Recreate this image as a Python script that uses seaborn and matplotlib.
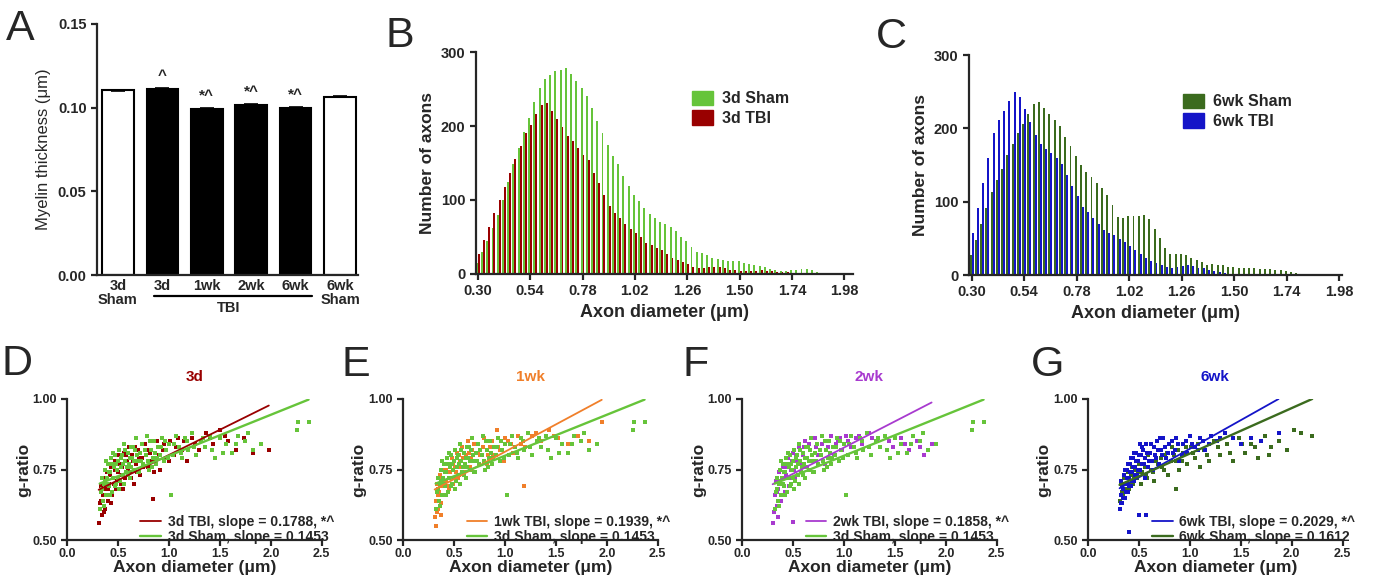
import numpy as np
import pandas as pd
import seaborn as sns
import matplotlib.pyplot as plt
from matplotlib.patches import Patch

sns.set_style('ticks')
plt.rcParams['font.family'] = ['Liberation Sans', 'DejaVu Sans']
plt.rcParams['axes.linewidth'] = 1.6
plt.rcParams['xtick.major.width'] = 1.6
plt.rcParams['ytick.major.width'] = 1.6
plt.rcParams['xtick.major.size'] = 4
plt.rcParams['ytick.major.size'] = 4

# ---- colours
c_sham3d = '#66C43A'
c_tbi3d = '#990000'
c_sham6 = '#3B6B1E'
c_tbi6 = '#1414C8'
c_1wk = '#F07F2A'
c_2wk = '#A83ACF'

# ---- panel A data
groups = ['3d\nSham', '3d', '1wk', '2wk', '6wk', '6wk\nSham']
myelin = [0.1104, 0.1114, 0.0992, 0.1016, 0.0998, 0.1066]
myelin_sem = [0.0003, 0.0003, 0.0003, 0.0003, 0.0003, 0.0003]
marks = ['', '^', '*^', '*^', '*^', '']
bar_fill = ['white', 'black', 'black', 'black', 'black', 'white']

# ---- histogram data (bins of 0.024 um starting at 0.30)
bin_centers = np.round(np.arange(71) * 0.024 + 0.30, 3)
hist_ticks = ['0.30', '0.54', '0.78', '1.02', '1.26', '1.50', '1.74', '1.98']
sham3d_counts = [15, 30, 45, 62, 80, 100, 124, 148, 170, 192,
                 211, 232, 251, 264, 269, 274, 276, 278, 270, 261,
                 251, 241, 225, 207, 191, 174, 160, 149, 133, 119,
                 107, 99, 89, 81, 75, 70, 67, 63, 58, 50,
                 44, 36, 30, 28, 26, 22, 20, 19, 18, 18,
                 17, 15, 14, 12, 11, 9, 7, 6, 4, 4,
                 5, 5, 7, 7, 5, 3, 1, 0, 0, 0, 0]
tbi3d_counts = [27, 46, 64, 82, 100, 118, 137, 155, 173, 191,
                202, 216, 228, 231, 220, 209, 198, 187, 180, 170,
                161, 154, 137, 123, 107, 92, 82, 76, 68, 61,
                55, 50, 42, 39, 35, 32, 27, 22, 19, 16,
                13, 10, 8, 8, 9, 9, 9, 8, 6, 5,
                4, 4, 4, 4, 5, 4, 4, 3, 2, 2,
                1, 1, 1, 0, 0, 0, 0, 0, 0, 0, 0]
sham6_counts = [27, 48, 70, 92, 113, 129, 145, 163, 179, 193,
                206, 219, 233, 236, 228, 220, 211, 203, 188, 176,
                162, 150, 141, 134, 126, 118, 109, 96, 79, 78,
                80, 81, 81, 82, 76, 63, 50, 37, 29, 29,
                28, 27, 23, 20, 18, 14, 15, 14, 13, 11,
                11, 10, 9, 9, 9, 8, 8, 8, 7, 7,
                6, 4, 3, 2, 2, 2, 2, 2, 2, 1, 1]
tbi6_counts = [57, 92, 125, 160, 194, 211, 224, 237, 250, 243,
               226, 209, 191, 179, 172, 166, 159, 151, 136, 122,
               108, 93, 86, 78, 70, 62, 57, 54, 49, 45,
               40, 34, 28, 23, 19, 17, 14, 11, 10, 11,
               12, 13, 12, 10, 9, 7, 5, 4, 3, 2,
               1, 0, 0, 0, 0, 0, 0, 0, 0, 0,
               0, 0, 0, 0, 0, 0, 0, 0, 0, 0, 0]

# ---- g-ratio scatter data (x = axon diameter um, y = g-ratio)
sham3d_pts = [(0.32, 0.61), (0.33, 0.67), (0.34, 0.72), (0.35, 0.64), (0.36, 0.70), (0.37, 0.75),
              (0.38, 0.66), (0.39, 0.72), (0.40, 0.77), (0.41, 0.69), (0.42, 0.74), (0.43, 0.79),
              (0.44, 0.67), (0.45, 0.72), (0.46, 0.76), (0.47, 0.80), (0.48, 0.70), (0.49, 0.75),
              (0.50, 0.78), (0.51, 0.82), (0.52, 0.71), (0.53, 0.76), (0.54, 0.80), (0.55, 0.73),
              (0.56, 0.84), (0.57, 0.78), (0.58, 0.74), (0.60, 0.81), (0.61, 0.77), (0.62, 0.72),
              (0.63, 0.83), (0.64, 0.79), (0.66, 0.75), (0.67, 0.82), (0.68, 0.86), (0.70, 0.78),
              (0.71, 0.74), (0.72, 0.81), (0.74, 0.84), (0.75, 0.77), (0.77, 0.80), (0.78, 0.87),
              (0.80, 0.75), (0.82, 0.82), (0.84, 0.79), (0.85, 0.85), (0.87, 0.77), (0.89, 0.83),
              (0.91, 0.80), (0.93, 0.86), (0.95, 0.78), (0.97, 0.82), (1.00, 0.84), (1.02, 0.66),
              (1.04, 0.80), (1.07, 0.87), (1.10, 0.83), (1.13, 0.79), (1.16, 0.86), (1.19, 0.82),
              (1.23, 0.88), (1.27, 0.80), (1.31, 0.85), (1.35, 0.83), (1.40, 0.87), (1.45, 0.79),
              (1.50, 0.86), (1.56, 0.84), (1.62, 0.81), (1.68, 0.87), (1.75, 0.85), (1.82, 0.82),
              (1.90, 0.84), (2.26, 0.89), (2.27, 0.92), (2.37, 0.92),
              (0.34, 0.68), (0.36, 0.62), (0.37, 0.71), (0.38, 0.78), (0.40, 0.70), (0.41, 0.74),
              (0.42, 0.66), (0.44, 0.77), (0.45, 0.81), (0.47, 0.69), (0.48, 0.77), (0.50, 0.72),
              (0.51, 0.68), (0.53, 0.79), (0.55, 0.77), (0.56, 0.70), (0.57, 0.82), (0.59, 0.76),
              (0.60, 0.73), (0.62, 0.79), (0.63, 0.76), (0.65, 0.83), (0.66, 0.78), (0.69, 0.80),
              (0.70, 0.74), (0.73, 0.78), (0.76, 0.82), (0.79, 0.78), (0.81, 0.85), (0.83, 0.76),
              (0.86, 0.81), (0.88, 0.79), (0.92, 0.83), (0.96, 0.85), (0.99, 0.79), (1.05, 0.84),
              (1.12, 0.81), (1.18, 0.85), (1.25, 0.83), (1.33, 0.86), (1.42, 0.82), (1.53, 0.81),
              (1.66, 0.84), (1.78, 0.88)]
tbi3d_pts = [(0.31, 0.56), (0.32, 0.63), (0.33, 0.69), (0.34, 0.59), (0.35, 0.66), (0.36, 0.72),
             (0.37, 0.61), (0.38, 0.68), (0.39, 0.74), (0.40, 0.64), (0.41, 0.70), (0.43, 0.76),
             (0.44, 0.66), (0.45, 0.72), (0.47, 0.78), (0.48, 0.68), (0.50, 0.74), (0.51, 0.80),
             (0.53, 0.70), (0.54, 0.76), (0.56, 0.81), (0.57, 0.72), (0.59, 0.78), (0.61, 0.83),
             (0.62, 0.74), (0.64, 0.80), (0.66, 0.70), (0.68, 0.77), (0.70, 0.82), (0.72, 0.73),
             (0.74, 0.79), (0.76, 0.84), (0.79, 0.76), (0.81, 0.81), (0.84, 0.645), (0.86, 0.78),
             (0.88, 0.85), (0.91, 0.75), (0.94, 0.82), (0.97, 0.79), (1.01, 0.85), (1.05, 0.80),
             (1.09, 0.86), (1.13, 0.82), (1.18, 0.78), (1.23, 0.86), (1.29, 0.82), (1.36, 0.88),
             (1.43, 0.84), (1.50, 0.89), (1.58, 0.85), (1.66, 0.82), (1.74, 0.86), (1.82, 0.81),
             (1.98, 0.82),
             (0.33, 0.64), (0.35, 0.70), (0.36, 0.60), (0.38, 0.72), (0.40, 0.68), (0.42, 0.73),
             (0.43, 0.63), (0.46, 0.70), (0.47, 0.75), (0.49, 0.71), (0.52, 0.77), (0.54, 0.73),
             (0.55, 0.68), (0.58, 0.80), (0.60, 0.75), (0.63, 0.72), (0.65, 0.78), (0.67, 0.83),
             (0.69, 0.74), (0.71, 0.79), (0.75, 0.76), (0.78, 0.82), (0.82, 0.78), (0.85, 0.74),
             (0.90, 0.80), (0.95, 0.84), (1.00, 0.78), (1.07, 0.83), (1.15, 0.85), (1.26, 0.84),
             (1.40, 0.86), (1.55, 0.87)]
tbi1wk_pts = [(0.31, 0.58), (0.32, 0.55), (0.32, 0.64), (0.33, 0.70), (0.34, 0.61), (0.35, 0.67),
              (0.36, 0.73), (0.37, 0.63), (0.38, 0.69), (0.39, 0.75), (0.41, 0.66), (0.42, 0.71),
              (0.43, 0.77), (0.45, 0.68), (0.46, 0.74), (0.48, 0.79), (0.49, 0.70), (0.51, 0.76),
              (0.53, 0.81), (0.54, 0.72), (0.56, 0.78), (0.58, 0.83), (0.60, 0.74), (0.62, 0.80),
              (0.64, 0.85), (0.66, 0.76), (0.68, 0.82), (0.71, 0.78), (0.73, 0.84), (0.76, 0.80),
              (0.79, 0.86), (0.82, 0.77), (0.85, 0.83), (0.88, 0.80), (0.92, 0.89), (0.95, 0.82),
              (0.99, 0.78), (1.03, 0.85), (1.08, 0.81), (1.13, 0.87), (1.19, 0.69), (1.20, 0.83),
              (1.27, 0.87), (1.35, 0.85), (1.43, 0.89), (1.52, 0.86), (1.62, 0.84), (1.72, 0.87),
              (1.82, 0.85), (1.95, 0.92),
              (0.33, 0.60), (0.34, 0.66), (0.36, 0.69), (0.37, 0.59), (0.38, 0.72), (0.40, 0.71),
              (0.42, 0.75), (0.44, 0.69), (0.47, 0.72), (0.49, 0.77), (0.52, 0.74), (0.55, 0.80),
              (0.57, 0.76), (0.59, 0.79), (0.61, 0.77), (0.65, 0.81), (0.67, 0.79), (0.70, 0.84),
              (0.74, 0.81), (0.78, 0.83), (0.83, 0.80), (0.87, 0.85), (0.93, 0.83), (1.00, 0.86),
              (1.06, 0.84), (1.16, 0.84), (1.30, 0.88), (1.48, 0.87)]
tbi2wk_pts = [(0.30, 0.56), (0.31, 0.60), (0.32, 0.66), (0.33, 0.71), (0.34, 0.62), (0.35, 0.68),
              (0.36, 0.74), (0.38, 0.64), (0.39, 0.70), (0.40, 0.76), (0.42, 0.67), (0.43, 0.73),
              (0.45, 0.79), (0.46, 0.69), (0.48, 0.75), (0.50, 0.565), (0.50, 0.81), (0.52, 0.72),
              (0.54, 0.78), (0.56, 0.83), (0.58, 0.74), (0.60, 0.80), (0.62, 0.85), (0.64, 0.76),
              (0.67, 0.82), (0.70, 0.78), (0.72, 0.86), (0.75, 0.80), (0.78, 0.84), (0.81, 0.77),
              (0.84, 0.83), (0.87, 0.87), (0.90, 0.80), (0.94, 0.85), (0.98, 0.82), (1.02, 0.87),
              (1.07, 0.83), (1.12, 0.86), (1.18, 0.84), (1.25, 0.88), (1.32, 0.85), (1.40, 0.87),
              (1.48, 0.83), (1.56, 0.86), (1.64, 0.82), (1.72, 0.85), (1.79, 0.80), (1.86, 0.84),
              (0.32, 0.61), (0.34, 0.67), (0.35, 0.58), (0.37, 0.71), (0.39, 0.66), (0.41, 0.72),
              (0.44, 0.76), (0.47, 0.72), (0.49, 0.78), (0.51, 0.75), (0.53, 0.80), (0.55, 0.77),
              (0.57, 0.82), (0.59, 0.77), (0.61, 0.83), (0.63, 0.79), (0.66, 0.84), (0.69, 0.80),
              (0.73, 0.83), (0.77, 0.80), (0.82, 0.85), (0.86, 0.81), (0.92, 0.84), (0.96, 0.86),
              (1.04, 0.85), (1.15, 0.87), (1.28, 0.86), (1.44, 0.85), (1.60, 0.84), (1.75, 0.83)]
sham6_pts = [(0.31, 0.64), (0.32, 0.70), (0.34, 0.66), (0.35, 0.72), (0.37, 0.68), (0.39, 0.74),
             (0.41, 0.70), (0.43, 0.76), (0.45, 0.72), (0.47, 0.78), (0.49, 0.74), (0.52, 0.70),
             (0.54, 0.77), (0.57, 0.73), (0.59, 0.80), (0.62, 0.75), (0.65, 0.71), (0.67, 0.78),
             (0.70, 0.82), (0.73, 0.76), (0.76, 0.80), (0.79, 0.73), (0.82, 0.83), (0.86, 0.68),
             (0.86, 0.78), (0.89, 0.75), (0.93, 0.81), (0.97, 0.77), (1.01, 0.83), (1.05, 0.79),
             (1.10, 0.76), (1.14, 0.82), (1.19, 0.78), (1.24, 0.85), (1.30, 0.80), (1.36, 0.84),
             (1.42, 0.78), (1.48, 0.86), (1.54, 0.81), (1.60, 0.84), (1.67, 0.79), (1.74, 0.87),
             (1.80, 0.83), (1.87, 0.85), (1.95, 0.82), (2.02, 0.89), (2.09, 0.88), (2.20, 0.87),
             (0.33, 0.67), (0.36, 0.70), (0.38, 0.72), (0.40, 0.68), (0.42, 0.73), (0.44, 0.70),
             (0.46, 0.75), (0.48, 0.72), (0.50, 0.77), (0.53, 0.74), (0.56, 0.76), (0.58, 0.72),
             (0.61, 0.78), (0.64, 0.74), (0.66, 0.80), (0.69, 0.77), (0.72, 0.79), (0.75, 0.75),
             (0.78, 0.81), (0.81, 0.78), (0.84, 0.80), (0.88, 0.82), (0.92, 0.78), (0.96, 0.83),
             (1.03, 0.81), (1.08, 0.84), (1.17, 0.80), (1.28, 0.83), (1.39, 0.81), (1.51, 0.84),
             (1.64, 0.83), (1.78, 0.80)]
tbi6_pts = [(0.31, 0.61), (0.32, 0.66), (0.32, 0.71), (0.33, 0.63), (0.34, 0.68), (0.35, 0.73),
            (0.36, 0.65), (0.37, 0.70), (0.38, 0.75), (0.39, 0.67), (0.40, 0.53), (0.40, 0.72),
            (0.41, 0.77), (0.42, 0.69), (0.43, 0.74), (0.44, 0.79), (0.45, 0.71), (0.46, 0.76),
            (0.47, 0.81), (0.48, 0.73), (0.49, 0.78), (0.50, 0.59), (0.51, 0.75), (0.52, 0.80),
            (0.53, 0.83), (0.55, 0.77), (0.56, 0.72), (0.57, 0.59), (0.58, 0.81), (0.60, 0.78),
            (0.62, 0.84), (0.64, 0.75), (0.66, 0.80), (0.68, 0.85), (0.70, 0.77), (0.72, 0.82),
            (0.74, 0.86), (0.77, 0.79), (0.80, 0.84), (0.83, 0.81), (0.86, 0.86), (0.89, 0.78),
            (0.93, 0.84), (0.97, 0.81), (1.00, 0.87), (1.05, 0.83), (1.10, 0.86), (1.15, 0.82),
            (1.21, 0.87), (1.27, 0.85), (1.34, 0.88), (1.42, 0.86), (1.50, 0.84), (1.60, 0.86),
            (1.70, 0.85), (1.87, 0.88),
            (0.32, 0.63), (0.33, 0.69), (0.34, 0.65), (0.35, 0.70), (0.36, 0.75), (0.37, 0.67),
            (0.38, 0.72), (0.39, 0.77), (0.40, 0.69), (0.41, 0.74), (0.42, 0.79), (0.43, 0.71),
            (0.44, 0.76), (0.45, 0.81), (0.46, 0.73), (0.47, 0.78), (0.49, 0.75), (0.50, 0.80),
            (0.51, 0.84), (0.53, 0.77), (0.54, 0.82), (0.56, 0.79), (0.57, 0.84), (0.59, 0.76),
            (0.61, 0.81), (0.63, 0.78), (0.65, 0.83), (0.67, 0.79), (0.69, 0.82), (0.71, 0.86),
            (0.73, 0.80), (0.76, 0.83), (0.79, 0.81), (0.82, 0.85), (0.85, 0.82), (0.88, 0.84),
            (0.92, 0.80), (0.96, 0.85), (1.02, 0.84), (1.08, 0.82), (1.13, 0.85), (1.19, 0.84),
            (1.30, 0.86)]

# regression lines: slope, intercept
fit_tbi3d = (0.1788, 0.6228)
fit_sham3d = (0.1453, 0.6535)
fit_tbi1wk = (0.1939, 0.6190)
fit_tbi2wk = (0.1858, 0.6420)
fit_tbi6 = (0.2029, 0.6206)
fit_sham6 = (0.1612, 0.6454)

fig = plt.figure(figsize=(13.77, 5.78), dpi=100)

# ================= A
axA = fig.add_axes([0.0704, 0.5242, 0.1895, 0.4343])
sns.barplot(x=groups, y=myelin, hue=groups, palette=bar_fill, order=groups,
            edgecolor='black', linewidth=1.5, width=0.71, saturation=1,
            legend=False, ax=axA)
axA.errorbar(range(len(groups)), myelin, yerr=myelin_sem, fmt='none',
             ecolor='black', elinewidth=1.2, capsize=5, capthick=1.2)
for i, (v, m) in enumerate(zip(myelin, marks)):
    if m:
        axA.text(i, v + 0.0035, m, ha='center', va='bottom', fontsize=11, fontweight='bold')
axA.set_xlim(-0.47, 5.4)
axA.set_ylim(0, 0.15)
axA.set_yticks([0, 0.05, 0.10, 0.15])
axA.set_yticklabels(['0.00', '0.05', '0.10', '0.15'], fontsize=10.5, fontweight='bold')
axA.set_xticks(range(len(groups)))
axA.set_xticklabels(groups, fontsize=10.5, fontweight='bold', linespacing=0.95)
axA.tick_params(axis='x', length=0, pad=3)
axA.set_ylabel('Myelin thickness (μm)', fontsize=12, labelpad=5)
sns.despine(ax=axA)
trA = axA.get_xaxis_transform()
axA.plot([0.81, 4.36], [-0.085, -0.085], color='black', lw=1.6, transform=trA, clip_on=False)
axA.text(2.5, -0.105, 'TBI', transform=trA, ha='center', va='top', fontsize=10.5, fontweight='bold')


# ================= B, C histograms
def hist_panel(rect, name_sham, name_tbi, sham, tbi, c_sham, c_tbi, xlim):
    ax = fig.add_axes(rect)
    df = pd.DataFrame({
        'bin': list(bin_centers) * 2,
        'count': sham + tbi,
        'group': [name_sham] * len(sham) + [name_tbi] * len(tbi),
    })
    sns.barplot(data=df, x='bin', y='count', hue='group', hue_order=[name_sham, name_tbi],
                palette=[c_sham, c_tbi], width=0.74, saturation=1, linewidth=0,
                legend=False, ax=ax)
    ax.set_xticks(range(0, 71, 10))
    ax.set_xticklabels(hist_ticks, fontsize=10.5, fontweight='bold')
    ax.set_xlim(*xlim)
    ax.set_ylim(0, 300)
    ax.set_yticks([0, 100, 200, 300])
    ax.set_yticklabels(['0', '100', '200', '300'], fontsize=10.5, fontweight='bold')
    ax.set_xlabel('Axon diameter (μm)', fontsize=13, fontweight='bold', labelpad=4)
    ax.set_ylabel('Number of axons', fontsize=12.5, fontweight='bold', labelpad=4)
    handles = [Patch(color=c_sham), Patch(color=c_tbi)]
    ax.legend(handles, [name_sham, name_tbi], loc='upper left', bbox_to_anchor=(0.535, 0.89),
              frameon=False, handlelength=1.3, handleheight=1.0, handletextpad=0.6,
              labelspacing=0.25, prop={'size': 11.5, 'weight': 'bold'})
    sns.despine(ax=ax)
    return ax


hist_panel([0.3457, 0.526, 0.2738, 0.384], '3d Sham', '3d TBI',
           sham3d_counts, tbi3d_counts, c_sham3d, c_tbi3d, (-0.33, 71.66))
hist_panel([0.7037, 0.5242, 0.2709, 0.3806], '6wk Sham', '6wk TBI',
           sham6_counts, tbi6_counts, c_sham6, c_tbi6, (-0.5, 70.5))

# ================= D-G g-ratio scatters
scatter_lefts = [0.0487, 0.2927, 0.5389, 0.7901]
scatter_titles = ['3d', '1wk', '2wk', '6wk']
scatter_title_colors = [c_tbi3d, c_1wk, c_2wk, c_tbi6]
tbi_sets = [tbi3d_pts, tbi1wk_pts, tbi2wk_pts, tbi6_pts]
tbi_colors = [c_tbi3d, c_1wk, c_2wk, c_tbi6]
tbi_fits = [fit_tbi3d, fit_tbi1wk, fit_tbi2wk, fit_tbi6]
tbi_labels = ['3d TBI, slope = 0.1788, *^', '1wk TBI, slope = 0.1939, *^',
              '2wk TBI, slope = 0.1858, *^', '6wk TBI, slope = 0.2029, *^']
sham_sets = [sham3d_pts, sham3d_pts, sham3d_pts, sham6_pts]
sham_colors = [c_sham3d, c_sham3d, c_sham3d, c_sham6]
sham_fits = [fit_sham3d, fit_sham3d, fit_sham3d, fit_sham6]
sham_labels = ['3d Sham, slope = 0.1453'] * 3 + ['6wk Sham, slope = 0.1612']

for k in range(4):
    ax = fig.add_axes([scatter_lefts[k], 0.0657, 0.1850, 0.2440])
    tx, ty = zip(*tbi_sets[k])
    sx, sy = zip(*sham_sets[k])
    if k < 3:
        order = [(tx, ty, tbi_colors[k]), (sx, sy, sham_colors[k])]
    else:
        order = [(sx, sy, sham_colors[k]), (tx, ty, tbi_colors[k])]
    for xx, yy, cc in order:
        sns.scatterplot(x=list(xx), y=list(yy), color=cc, s=8, marker='s',
                        linewidth=0, ax=ax)
    lines = []
    for xx, fit, cc, lab, lw in [(tx, tbi_fits[k], tbi_colors[k], tbi_labels[k], 1.3),
                                 (sx, sham_fits[k], sham_colors[k], sham_labels[k], 1.7)]:
        xl = np.array([min(xx), max(xx)])
        ln, = ax.plot(xl, fit[1] + fit[0] * xl, color=cc, lw=lw, label=lab)
        lines.append(ln)
    ax.set_xlim(0, 2.5)
    ax.set_ylim(0.5, 1.0)
    ax.set_xticks([0.0, 0.5, 1.0, 1.5, 2.0, 2.5])
    ax.set_xticklabels(['0.0', '0.5', '1.0', '1.5', '2.0', '2.5'], fontsize=9, fontweight='bold')
    ax.set_yticks([0.5, 0.75, 1.0])
    ax.set_yticklabels(['0.50', '0.75', '1.00'], fontsize=9, fontweight='bold')
    ax.tick_params(axis='x', pad=2)
    ax.set_xlabel('Axon diameter (μm)', fontsize=12.5, fontweight='bold', labelpad=0)
    ax.set_ylabel('g-ratio', fontsize=12.5, fontweight='bold', labelpad=1)
    ax.set_title(scatter_titles[k], color=scatter_title_colors[k], fontsize=11,
                 fontweight='bold', pad=13)
    ax.legend(handles=lines, loc='lower right', bbox_to_anchor=(1.05, -0.03), frameon=False,
              borderpad=0, borderaxespad=0, handlelength=1.5, handletextpad=0.5,
              labelspacing=0.1, prop={'size': 10, 'weight': 'bold'})
    sns.despine(ax=ax)

# ---- panel letters
letters = ['A', 'B', 'C', 'D', 'E', 'F', 'G']
letter_xy = [(0.004, 0.985), (0.280, 0.972), (0.636, 0.970),
             (0.001, 0.405), (0.248, 0.403), (0.496, 0.403), (0.749, 0.403)]
for s, (x, y) in zip(letters, letter_xy):
    fig.text(x, y, s, fontsize=31, ha='left', va='top')

fig.savefig('out.png', dpi=100)
